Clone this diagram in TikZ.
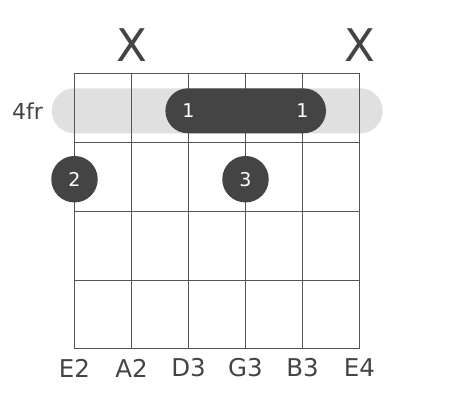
\documentclass[tikz,border=0pt]{standalone}
\usepackage{fontspec}
\setmainfont{DejaVu Sans}
\definecolor{ink}{HTML}{444444}
\definecolor{wirecol}{HTML}{555555}
\definecolor{barfill}{HTML}{E0E0E0}
\tikzset{
  wire/.style={draw=wirecol, line width=1.3pt},
  finger/.style={circle, fill=ink, minimum size=46.5pt, inner sep=0pt, text=white, font=\fontsize{19}{19}\selectfont},
  fingertext/.style={text=white, font=\fontsize{19}{19}\selectfont},
  notename/.style={text=ink, font=\fontsize{24.5}{24.5}\selectfont},
  mute/.style={text=ink, font=\fontsize{45}{45}\selectfont}
}
\begin{document}
\begin{tikzpicture}[x=1pt,y=-1pt]
    \useasboundingbox (0,0) rectangle (457,400);

    \def\graybar{(51.7,88.3) rectangle (382.7,133.3)}
    \def\darkbar{(165.4,88.3) rectangle (326,133.3)}

    %barre shading:
    \fill[barfill, rounded corners=22.5pt] \graybar;

    %fretboard:
    \foreach \x in {74.5,131.5,188.5,245.5,302.5,359.5}
        \draw[wire] (\x,72.85) -- (\x,349.15);
    \foreach \y in {73.5,142.5,211.5,280.5,348.5}
        \draw[wire] (73.85,\y) -- (360.15,\y);

    %barre:
    \fill[ink, rounded corners=22.5pt] \darkbar;
    \node[fingertext] (barreD) at (188.5,111) {1};
    \node[fingertext] (barreB) at (302.5,111) {1};

    %fingers:
    \node[finger] (dotE) at (74.5,179.2) {2};
    \node[finger] (dotG) at (245.5,179.2) {3};

    %fret label:
    \node[notename, font=\fontsize{22}{22}\selectfont] (fret) at (27.5,111) {4fr};

    %muted strings:
    \node[mute] (muteA) at (131.5,45.5) {X};
    \node[mute] (muteE) at (359.5,45.5) {X};

    %string names:
    \node[notename] (nE) at (74.5,368) {E2};
    \node[notename] (nA) at (131.5,368) {A2};
    \node[notename] (nD) at (188.5,368) {D3};
    \node[notename] (nG) at (245.5,368) {G3};
    \node[notename] (nB) at (302.5,368) {B3};
    \node[notename] (nEh) at (359.5,368) {E4};

\end{tikzpicture}
\end{document}
